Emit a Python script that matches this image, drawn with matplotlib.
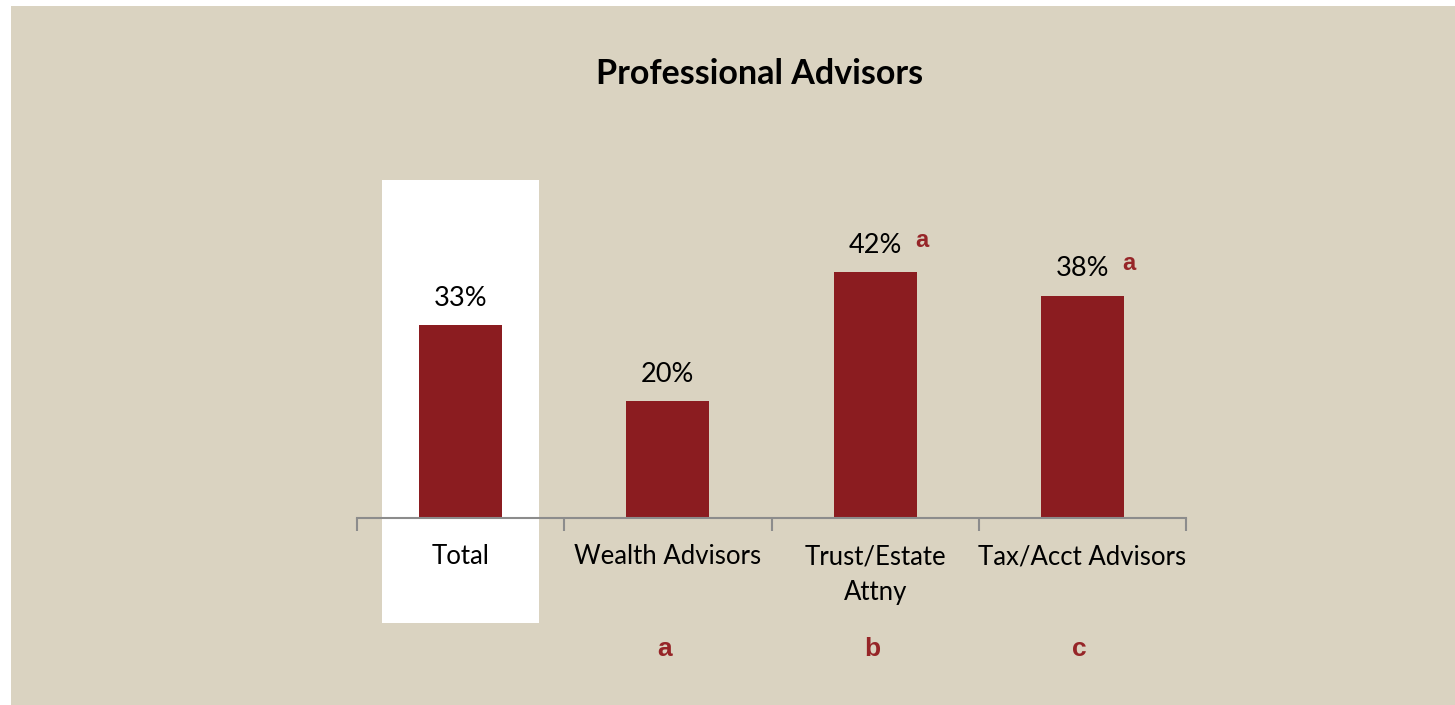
import matplotlib.pyplot as plt
from matplotlib.patches import Rectangle
import matplotlib.transforms as mtransforms

# survey shares by advisor group
categories = ['Total', 'Wealth Advisors', 'Trust/Estate\nAttny', 'Tax/Acct Advisors']
values = [33, 20, 42, 38]
sig_marks = ['', '', 'a', 'a']          # significance flags next to value labels
col_letters = ['', 'a', 'b', 'c']       # column letters under the axis

bg = '#DAD3C1'
bar_col = '#8B1C20'
mark_col = '#962528'

plt.rcParams['font.family'] = ['Lato', 'DejaVu Sans']

fig = plt.figure(figsize=(14.55, 7.05), dpi=100)
fig.patch.set_facecolor('white')
# beige panel behind the chart
fig.patches.append(Rectangle((11 / 1455, -0.1), 2, 1.1 - 6 / 705, transform=fig.transFigure,
                             facecolor=bg, edgecolor='none', zorder=-10))

ax = fig.add_axes([357 / 1455, (705 - 518) / 705, 829 / 1455, 351 / 705])
ax.set_facecolor('none')

x = list(range(len(values)))
ax.set_xlim(-0.5, len(values) - 0.5)
ax.set_ylim(0, 60)

# white highlight column behind "Total"
trans = mtransforms.blended_transform_factory(ax.transData, fig.transFigure)
ax.add_patch(Rectangle((-0.38, (705 - 623) / 705), 0.76, (623 - 180) / 705,
                       transform=trans, facecolor='white', edgecolor='none',
                       clip_on=False, zorder=0))

ax.bar(x, values, width=0.4, color=bar_col, zorder=2)

for xi, v, m in zip(x, values, sig_marks):
    ax.text(xi, v + 3.3, f'{v}%', ha='center', va='baseline', fontsize=19.5, color='black')
    if m:
        ax.text(xi + 0.225, v + 4.4, m, ha='center', va='baseline', fontsize=17,
                fontweight='bold', color=mark_col, family=['Liberation Sans'])

for spine in ['top', 'right', 'left']:
    ax.spines[spine].set_visible(False)
ax.spines['bottom'].set_color('#8C8C8C')
ax.spines['bottom'].set_linewidth(1.5)

ax.set_yticks([])
ax.set_xticks(x)
ax.set_xticklabels(categories, fontsize=18.5, linespacing=1.55, va='top')
ax.tick_params(axis='x', which='major', length=0, pad=19)
ax.set_xticks([i - 0.5 for i in range(len(values) + 1)], minor=True)
ax.tick_params(axis='x', which='minor', length=9, width=1.5, color='#8C8C8C', direction='out')

for xi, c in zip(x, col_letters):
    if c:
        ax.text(xi - 0.015, 1 - (656 - 167) / 351, c, transform=ax.get_xaxis_transform(),
                ha='center', va='baseline', fontsize=19, fontweight='bold',
                color=mark_col, family=['Liberation Sans'])

fig.text(760 / 1455, 1 - 84 / 705, 'Professional Advisors', ha='center', va='baseline',
         fontsize=24.5, fontweight='bold')

fig.savefig('out.png', dpi=100, facecolor=fig.get_facecolor())
